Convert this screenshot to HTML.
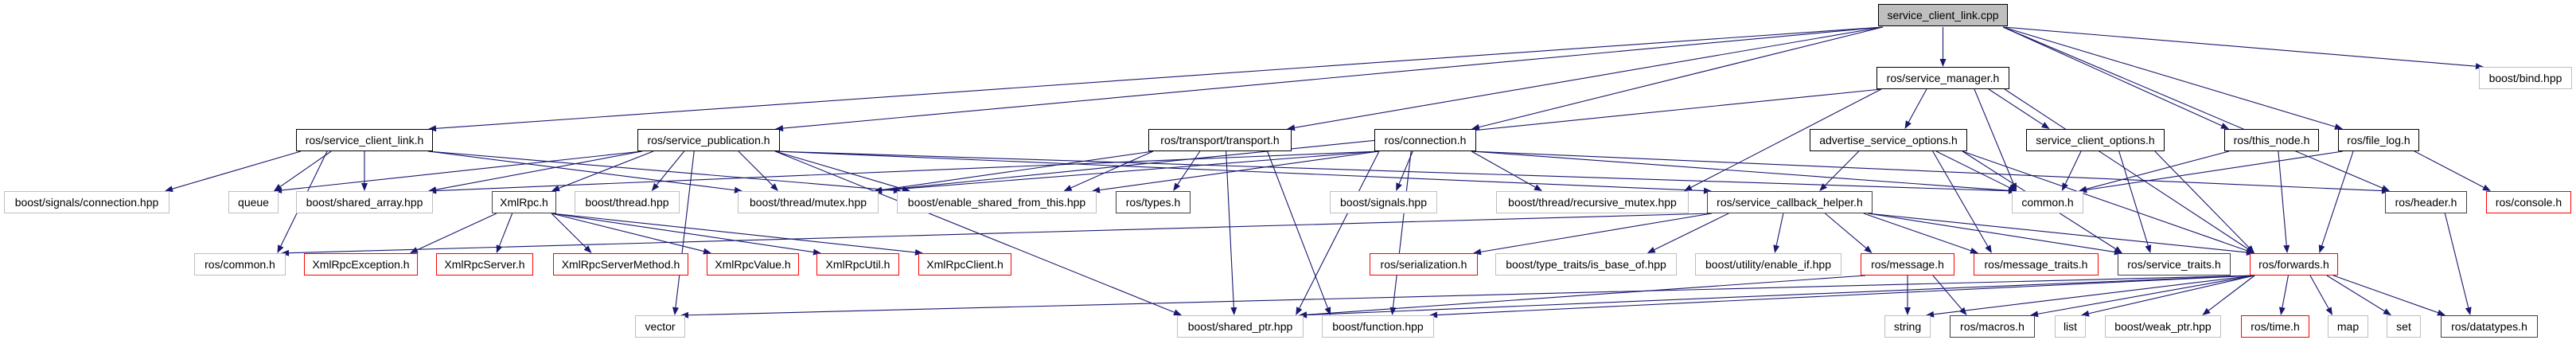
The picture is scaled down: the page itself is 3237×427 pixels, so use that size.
<!DOCTYPE html>
<html><head><meta charset="utf-8">
<style>
html,body{margin:0;padding:0;background:#fff;}
#c{position:relative;width:3237px;height:427px;overflow:hidden;}
svg{position:absolute;left:0;top:0;}
.n{position:absolute;box-sizing:border-box;height:28px;border:1px solid #000;background:#fff;font:14px "Liberation Sans",sans-serif;text-align:center;line-height:26px;white-space:nowrap;color:#000;}
.g{border-color:#bfbfbf;}
.r{border-color:#ff0000;}
.d{border-color:#404040;border-width:1.5px;}
.f{background:#bfbfbf;}
</style></head><body>
<div id="c">
<svg id="s" width="3237" height="427"></svg>
<div class="n f" style="left:2360px;top:5px;width:163px">service_client_link.cpp</div>
<div class="n" style="left:2358px;top:84px;width:167px">ros/service_manager.h</div>
<div class="n g" style="left:3115px;top:84px;width:117px">boost/bind.hpp</div>
<div class="n" style="left:372px;top:162px;width:172px">ros/service_client_link.h</div>
<div class="n" style="left:801px;top:162px;width:179px">ros/service_publication.h</div>
<div class="n" style="left:1443px;top:162px;width:180px">ros/transport/transport.h</div>
<div class="n" style="left:1727px;top:162px;width:128px">ros/connection.h</div>
<div class="n" style="left:2274px;top:162px;width:198px">advertise_service_options.h</div>
<div class="n" style="left:2546px;top:162px;width:174px">service_client_options.h</div>
<div class="n" style="left:2795px;top:162px;width:119px">ros/this_node.h</div>
<div class="n" style="left:2938px;top:162px;width:102px">ros/file_log.h</div>
<div class="n g" style="left:5px;top:240px;width:208px">boost/signals/connection.hpp</div>
<div class="n g" style="left:287px;top:240px;width:63px">queue</div>
<div class="n g" style="left:372px;top:240px;width:172px">boost/shared_array.hpp</div>
<div class="n d" style="left:618px;top:240px;width:81px">XmlRpc.h</div>
<div class="n g" style="left:722px;top:240px;width:132px">boost/thread.hpp</div>
<div class="n g" style="left:927px;top:240px;width:177px">boost/thread/mutex.hpp</div>
<div class="n g" style="left:1127px;top:240px;width:251px">boost/enable_shared_from_this.hpp</div>
<div class="n d" style="left:1402px;top:240px;width:94px">ros/types.h</div>
<div class="n g" style="left:1671px;top:240px;width:135px">boost/signals.hpp</div>
<div class="n g" style="left:1880px;top:240px;width:242px">boost/thread/recursive_mutex.hpp</div>
<div class="n d" style="left:2145px;top:240px;width:208px">ros/service_callback_helper.h</div>
<div class="n g" style="left:2528px;top:240px;width:90px">common.h</div>
<div class="n d" style="left:2997px;top:240px;width:103px">ros/header.h</div>
<div class="n r" style="left:3124px;top:240px;width:107px">ros/console.h</div>
<div class="n g" style="left:244px;top:318px;width:115px">ros/common.h</div>
<div class="n r" style="left:382px;top:318px;width:143px">XmlRpcException.h</div>
<div class="n r" style="left:548px;top:318px;width:122px">XmlRpcServer.h</div>
<div class="n r" style="left:695px;top:318px;width:170px">XmlRpcServerMethod.h</div>
<div class="n r" style="left:888px;top:318px;width:116px">XmlRpcValue.h</div>
<div class="n r" style="left:1026px;top:318px;width:104px">XmlRpcUtil.h</div>
<div class="n r" style="left:1154px;top:318px;width:117px">XmlRpcClient.h</div>
<div class="n r" style="left:1721px;top:318px;width:136px">ros/serialization.h</div>
<div class="n g" style="left:1879px;top:318px;width:228px">boost/type_traits/is_base_of.hpp</div>
<div class="n g" style="left:2130px;top:318px;width:184px">boost/utility/enable_if.hpp</div>
<div class="n r" style="left:2338px;top:318px;width:118px">ros/message.h</div>
<div class="n r" style="left:2480px;top:318px;width:157px">ros/message_traits.h</div>
<div class="n d" style="left:2661px;top:318px;width:142px">ros/service_traits.h</div>
<div class="n r" style="left:2827px;top:318px;width:111px">ros/forwards.h</div>
<div class="n g" style="left:798px;top:396px;width:63px">vector</div>
<div class="n g" style="left:1479px;top:396px;width:159px">boost/shared_ptr.hpp</div>
<div class="n g" style="left:1661px;top:396px;width:141px">boost/function.hpp</div>
<div class="n g" style="left:2368px;top:396px;width:58px">string</div>
<div class="n d" style="left:2450px;top:396px;width:107px">ros/macros.h</div>
<div class="n g" style="left:2582px;top:396px;width:39px">list</div>
<div class="n g" style="left:2645px;top:396px;width:146px">boost/weak_ptr.hpp</div>
<div class="n r" style="left:2816px;top:396px;width:86px">ros/time.h</div>
<div class="n g" style="left:2925px;top:396px;width:51px">map</div>
<div class="n g" style="left:2999px;top:396px;width:43px">set</div>
<div class="n d" style="left:3067px;top:396px;width:122px">ros/datatypes.h</div>
</div>
<script>
var N={cpp:[2360,5,2523,34],mgr:[2358,84,2525,112],bind:[3115,84,3232,112],scl:[372,162,544,190],pub:[801,162,980,190],trn:[1443,162,1623,190],con:[1727,162,1855,190],aso:[2274,162,2472,190],sco:[2546,162,2720,190],thn:[2795,162,2914,190],flg:[2938,162,3040,190],bsc:[5,240,213,268],que:[287,240,350,268],sha:[372,240,544,268],xml:[618,240,699,268],thr:[722,240,854,268],mtx:[927,240,1104,268],esf:[1127,240,1378,268],typ:[1402,240,1496,268],sig:[1671,240,1806,268],rmx:[1880,240,2122,268],sch:[2145,240,2353,268],cmn:[2528,240,2618,268],hdr:[2997,240,3100,268],cns:[3124,240,3231,268],rcm:[244,318,359,346],xex:[382,318,525,346],xsv:[548,318,670,346],xsm:[695,318,865,346],xvl:[888,318,1004,346],xut:[1026,318,1130,346],xcl:[1154,318,1271,346],ser:[1721,318,1857,346],iso:[1879,318,2107,346],eif:[2130,318,2314,346],msg:[2338,318,2456,346],mtr:[2480,318,2637,346],str:[2661,318,2803,346],fwd:[2827,318,2938,346],vec:[798,396,861,424],shp:[1479,396,1638,424],fnc:[1661,396,1802,424],sng:[2368,396,2426,424],mac:[2450,396,2557,424],lst:[2582,396,2621,424],wkp:[2645,396,2791,424],tim:[2816,396,2902,424],map:[2925,396,2976,424],set:[2999,396,3042,424],dty:[3067,396,3189,424]};
var E={cpp:"scl pub trn con mgr thn flg bind hdr",mgr:"mtx rmx aso sco cmn fwd",scl:"bsc que sha rcm mtx esf",pub:"que sha xml thr mtx esf vec shp cmn sch",trn:"mtx esf typ shp fnc",con:"sha mtx esf sig rmx shp fnc cmn hdr",xml:"xex xsv xsm xvl xut xcl",aso:"sch cmn mtr str fwd",sco:"cmn str fwd",thn:"cmn fwd",flg:"cmn fwd cns",hdr:"dty",sch:"rcm ser iso eif msg mtr str fwd",msg:"sng mac shp",fwd:"vec shp fnc sng mac lst wkp tim map set dty"};
var s=document.getElementById('s'),h='';
function cl(v,a,b){return Math.max(a,Math.min(b,v));}
for(var k in E){E[k].split(' ').forEach(function(t){
 var a=N[k],b=N[t],x1,y1,x2,y2;
 var ac=(a[0]+a[2])/2,bc=(b[0]+b[2])/2;
 if(b[1]<a[3]-5){ // same row
  y1=(a[1]+a[3])/2+4;x1=a[2];x2=b[0];y2=(b[1]+b[3])/2;
 } else if(b[1]-a[3]>60){ // skip rows: side-ish
  x1=cl(ac+(bc-ac)*0.3,a[0]+6,a[2]-6);y1=a[3];
  x2=cl(bc+(ac-bc)*0.3,b[0]+6,b[2]-6);y2=b[1];
  if(bc>b[2]-10||bc<b[0]+10){}
 } else {
  x1=cl(ac+(bc-ac)*0.3,a[0]+6,a[2]-6);y1=a[3];
  x2=cl(bc+(ac-bc)*0.3,b[0]+6,b[2]-6);y2=b[1];
 }
 var dx=x2-x1,dy=y2-y1,L=Math.sqrt(dx*dx+dy*dy),ux=dx/L,uy=dy/L,al=10,aw=4;
 var bx=x2-ux*al,by=y2-uy*al;
 h+='<line x1="'+x1+'" y1="'+y1+'" x2="'+bx+'" y2="'+by+'" stroke="#191970" stroke-width="1.1"/>';
 h+='<polygon points="'+x2+','+y2+' '+(bx-uy*aw)+','+(by+ux*aw)+' '+(bx+uy*aw)+','+(by-ux*aw)+'" fill="#191970"/>';
});}
s.innerHTML=h;
</script>
</body></html>
